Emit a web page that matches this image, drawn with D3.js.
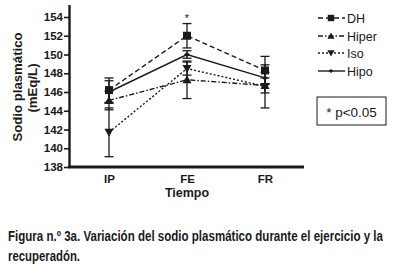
<!DOCTYPE html>
<html><head><meta charset="utf-8">
<script src="https://cdn.jsdelivr.net/npm/d3@7"></script>
<style>body{margin:0;background:#fff}svg{display:block}</style>
</head><body>
<script>
const categories = ["IP","FE","FR"];
const seriesNames = ["DH","Hiper","Iso","Hipo"];
const dhVals = [146.2, 152.0, 148.3];
const dhErr = [1.3, 1.3, 1.5];
const hiperVals = [145.1, 147.3, 146.7];
const hiperErr = [1.0, 2.0, 0.8];
const isoVals = [141.7, 148.5, 146.6];
const isoErr = [2.6, 0.7, 2.3];
const hipoVals = [146.0, 150.0, 147.5];
const hipoErr = [1.2, 0.4, 0.6];
const yTicks = [138,140,142,144,146,148,150,152,154];
const sigLabel = "* p<0.05";

const W=396,H=266;
const svg=d3.select("body").append("svg").attr("width",W).attr("height",H);
const x=d3.scalePoint().domain(categories).range([70,304]).padding(0.5);
const y=d3.scaleLinear().domain([138,154]).range([167,17]);
const ink="#1a1a1a";
const FF="Liberation Sans, Arial, sans-serif";

const series=[
 {name:"DH",vals:dhVals,err:dhErr,dash:"5,3",marker:"square"},
 {name:"Hiper",vals:hiperVals,err:hiperErr,dash:"5,2,1.5,2",marker:"up"},
 {name:"Iso",vals:isoVals,err:isoErr,dash:"2,2",marker:"down"},
 {name:"Hipo",vals:hipoVals,err:hipoErr,dash:null,marker:"dot"}
];

series.forEach(s=>{
  const g=svg.append("g").attr("stroke",ink).attr("stroke-width",1.3);
  categories.forEach((c,i)=>{
    const cx=x(c),t=y(s.vals[i]+s.err[i]),b=y(s.vals[i]-s.err[i]);
    g.append("line").attr("x1",cx).attr("x2",cx).attr("y1",t).attr("y2",b);
    g.append("line").attr("x1",cx-4.5).attr("x2",cx+4.5).attr("y1",t).attr("y2",t);
    g.append("line").attr("x1",cx-4.5).attr("x2",cx+4.5).attr("y1",b).attr("y2",b);
  });
});

const line=d3.line().x((d,i)=>x(categories[i])).y(d=>y(d));
function marker(g,type,cx,cy,k){
  k=k||1;
  if(type==="square") g.append("rect").attr("x",cx-4*k).attr("y",cy-4*k).attr("width",8*k).attr("height",8*k).attr("fill",ink);
  else if(type==="up") g.append("path").attr("d",`M${cx},${cy-4.5*k}L${cx+4.5*k},${cy+3.5*k}L${cx-4.5*k},${cy+3.5*k}Z`).attr("fill",ink);
  else if(type==="down") g.append("path").attr("d",`M${cx},${cy+4.5*k}L${cx+4.5*k},${cy-3.5*k}L${cx-4.5*k},${cy-3.5*k}Z`).attr("fill",ink);
  else g.append("path").attr("d",`M${cx},${cy-2.5*k}L${cx+3*k},${cy}L${cx},${cy+2.5*k}L${cx-3*k},${cy}Z`).attr("fill",ink);
}
series.forEach(s=>{
  svg.append("path").datum(s.vals).attr("d",line).attr("fill","none").attr("stroke",ink)
    .attr("stroke-width",1.4).attr("stroke-dasharray",s.dash);
  const g=svg.append("g");
  s.vals.forEach((v,i)=>marker(g,s.marker,x(categories[i]),y(v)));
});

const yAx=svg.append("g").attr("transform","translate(69,0)")
 .call(d3.axisLeft(y).tickValues(yTicks).tickSize(5).tickPadding(1).tickFormat(d3.format("d")));
yAx.select(".domain").remove();
yAx.selectAll("line").attr("stroke",ink).attr("stroke-width",1.6);
yAx.selectAll("text").attr("font-family",FF).attr("font-weight","bold").attr("font-size",11.5).attr("fill",ink);
svg.append("line").attr("x1",69.5).attr("x2",69.5).attr("y1",5).attr("y2",168).attr("stroke",ink).attr("stroke-width",2.4);
svg.append("line").attr("x1",68).attr("x2",304).attr("y1",167).attr("y2",167).attr("stroke",ink).attr("stroke-width",3);

const xAx=svg.append("g").attr("transform","translate(0,169)")
 .call(d3.axisBottom(x).tickSize(0).tickPadding(6));
xAx.select(".domain").remove();
xAx.selectAll("text").attr("font-family",FF).attr("font-weight","bold").attr("font-size",11.5).attr("fill",ink);

svg.append("text").attr("x",x("FE")).attr("y",197).attr("text-anchor","middle")
 .attr("font-family",FF).attr("font-weight","bold").attr("font-size",12.5).attr("fill",ink).text("Tiempo");

const yt=svg.append("g").attr("transform","translate(0,87) rotate(-90)")
 .attr("font-family",FF).attr("font-weight","bold").attr("font-size",13.2).attr("fill",ink).attr("text-anchor","middle");
yt.append("text").attr("x",0).attr("y",22).text("Sodio plasmático");
yt.append("text").attr("x",-1).attr("y",37).text("(mEq/L)");

svg.append("text").attr("x",x("FE")).attr("y",22).attr("text-anchor","middle")
 .attr("font-family",FF).attr("font-size",11).attr("fill",ink).text("*");

const leg=svg.append("g");
const legY=[18,36,53,71];
series.forEach((s,i)=>{
  const ly=legY[i];
  leg.append("line").attr("x1",318).attr("x2",345).attr("y1",ly).attr("y2",ly).attr("stroke",ink)
   .attr("stroke-width",1.4).attr("stroke-dasharray",s.dash);
  marker(leg,s.marker,331,ly,0.8);
  leg.append("text").attr("x",347).attr("y",ly+4.5).attr("font-family",FF)
   .attr("font-size",12.5).attr("fill",ink).text(seriesNames[i]);
});
leg.append("rect").attr("x",317).attr("y",97).attr("width",69).attr("height",28).attr("fill","none").attr("stroke",ink).attr("stroke-width",1);
leg.append("text").attr("x",351.5).attr("y",116.5).attr("text-anchor","middle").attr("font-family",FF)
 .attr("font-size",13.5).attr("fill",ink).text(sigLabel);

// caption (condensed via horizontal scale)
function capLine(txt,x0,yb,targetW){
  const g=svg.append("g");
  const t=g.append("text").attr("x",0).attr("y",0).attr("font-family","Liberation Sans Narrow, Arial Narrow, "+FF)
   .attr("font-weight","bold").attr("font-size",14).attr("fill",ink).text(txt);
  const w=t.node().getComputedTextLength();
  g.attr("transform",`translate(${x0},${yb}) scale(${targetW/w},1)`);
}
capLine("Figura n.º 3a. Variación del sodio plasmático durante el ejercicio y la",8,241,375);
capLine("recuperadón.",8,261,72);
</script>
</body></html>
